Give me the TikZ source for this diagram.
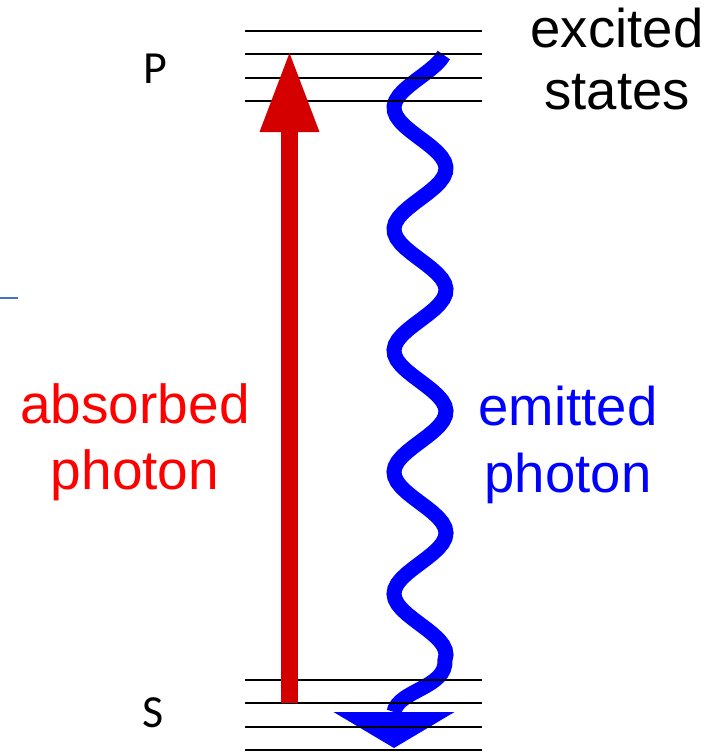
\documentclass[tikz,border=0pt]{standalone}
\usepackage{fontspec}
\setmainfont{Liberation Sans}
\newfontfamily\levelfont{Carlito}
\usepackage{tikz}
\usetikzlibrary{arrows.meta, positioning, calc}

\definecolor{absred}{RGB}{212,0,0}
\definecolor{strayblue}{RGB}{68,114,196}

\begin{document}
\begin{tikzpicture}[
    x=1pt, y=-1pt,
    level/.style={line width=2.8pt, black},
    bigtext/.style={align=center, anchor=base},
]
\useasboundingbox (0,0) rectangle (725,755);

% end points
\coordinate (absstart) at (289.5,703);
\coordinate (abstip) at (289.5,53);
\coordinate (emitbase) at (394,712);
\coordinate (emittip) at (394,748);

% emitted photon
\draw[blue, line width=15pt, -{Triangle[width=121pt, length=36pt, line width=0pt]}]
    plot[domain=55:660, samples=120, variable=\t] ({420+26*cos((\t-47)/121.5*360)}, \t)
    .. controls (447,688) and (398,690) .. (emitbase) -- (emittip);

% energy levels
\foreach \y in {31,54,78,101,680,703,727,750}
    \draw[level] (245,\y) -- (482,\y);

% absorbed photon
\draw[absred, line width=17pt, -{Triangle[width=60pt, length=79pt, line width=0pt]}] (absstart) -- (abstip);

% labels (base = last line)
\node[bigtext, red, font=\fontsize{55}{66}\selectfont] (absorbed) at (135,489) {absorbed\\photon};
\node[bigtext, blue, font=\fontsize{54.5}{67}\selectfont] (emitted) at (568,492) {emitted\\photon};
\node[bigtext, font=\fontsize{54.5}{62}\selectfont] (excited) at (617,109) {excited\\states};
\node[anchor=base, font=\levelfont\fontsize{46}{50}\selectfont] (P) at (155,83) {P};
\node[anchor=base, font=\levelfont\fontsize{46}{50}\selectfont] (S) at (153,727) {S};

\draw[strayblue, line width=2pt] (0,298) -- (18,298);

\end{tikzpicture}
\end{document}
